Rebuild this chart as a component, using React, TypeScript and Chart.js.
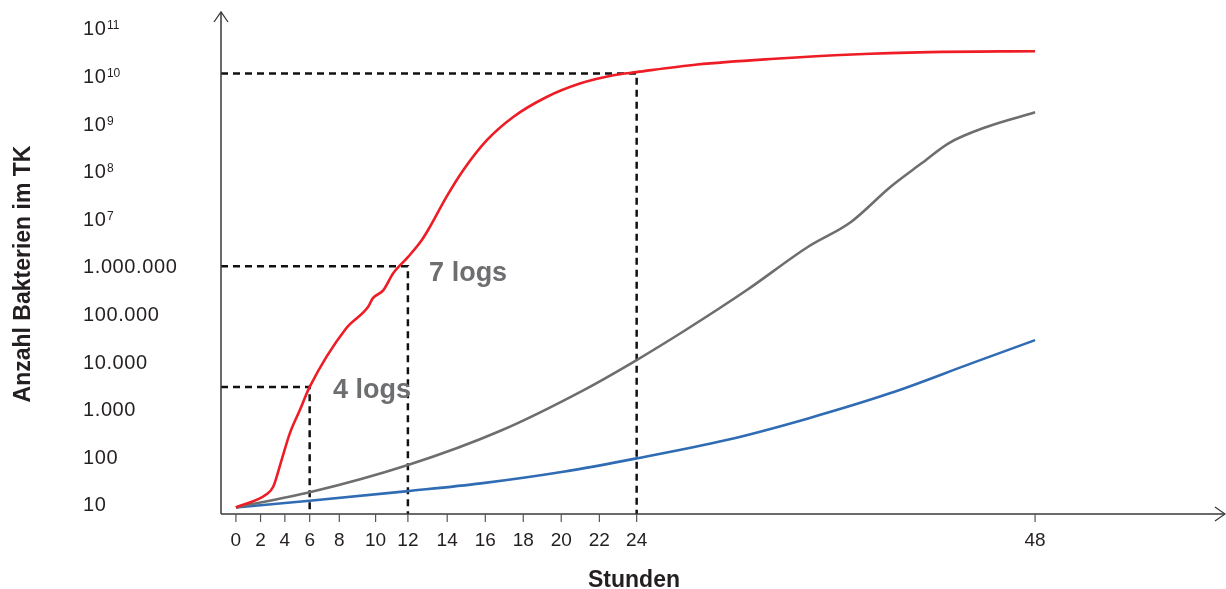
import { useEffect, useRef } from 'react';
import {
  Chart,
  LineController,
  LineElement,
  PointElement,
  LinearScale,
  LogarithmicScale,
} from 'chart.js';

// ---------- data ----------
// printed hour ticks and where the (irregular) printed ruler places them, in hours of an even 48 h ruler
const HOURS_TICKS = [0, 2, 4, 6, 8, 10, 12, 14, 16, 18, 20, 22, 24, 48];
const HOURS_TICK_LABELS = ['0', '2', '4', '6', '8', '10', '12', '14', '16', '18', '20', '22', '24', '48'];
const HOURS_RULER = [0, 1.48, 2.94, 4.43, 6.21, 8.39, 10.33, 12.69, 14.98, 17.26, 19.54, 21.83, 24.07, 48];
const X_MIN_HOURS = -1.21;
const X_MAX_HOURS = 59.44;

const Y_MIN = 6.17;
const Y_MAX = 2.2e11;
const Y_TICKS = [10, 100, 1e3, 1e4, 1e5, 1e6, 1e7, 1e8, 1e9, 1e10, 1e11];
const Y_TICK_LABELS = ['10', '100', '1.000', '10.000', '100.000', '1.000.000', '10⁷', '10⁸', '10⁹', '10¹⁰', '10¹¹'];

const RED_HOURS = [0, 2.49, 3.04, 3.73, 4.4, 5.21, 6, 8.37, 9.59, 9.84, 10.47, 11.09, 12, 12.7, 13.12, 13.97, 14.84, 16.07, 17.47, 19.23, 20.98, 22.75, 24, 27.65, 32.31, 36.97, 41.63, 48];
const RED_CFU = [8.5, 16, 23, 84, 306, 946, 2900, 4.9e4, 1.4e5, 2.1e5, 3.1e5, 7.1e5, 1.55e6, 3.5e6, 6.7e6, 2.9e7, 1.04e8, 4.4e8, 1.37e9, 3.6e9, 6.9e9, 1.03e10, 1.2e10, 1.73e10, 2.29e10, 2.82e10, 3.16e10, 3.3e10];

const GRAY_HOURS = [0, 6, 12, 16.77, 21.18, 24, 26.95, 30.64, 34.33, 36.91, 39.3, 41.16, 42.79, 45.12, 48];
const GRAY_CFU = [8.5, 17.6, 66, 343, 2490, 10640, 45500, 3.15e5, 2.56e6, 8.5e6, 4.68e7, 1.45e8, 3.83e8, 8.55e8, 1.71e9];

const BLUE_HOURS = [0, 6, 12, 15.77, 20.1, 24, 29.41, 34.33, 39.25, 44.16, 48];
const BLUE_CFU = [8.5, 11.7, 18.7, 27.2, 47.7, 91, 221, 631, 2120, 9040, 27900];

const GUIDE_HOURS = [6, 12, 24];
const GUIDE_CFU = [2900, 1e6, 1.12e10];

const NOTE_TEXTS = ['4 logs', '7 logs'];
const NOTE_HOURS = [7.57, 13.08];
const NOTE_CFU = [1670, 4.9e5];

const X_TITLE = 'Stunden';
const Y_TITLE = 'Anzahl Bakterien im TK';

// ---------- styles ----------
const FONT = '"Liberation Sans", Arial, Helvetica, sans-serif';
const RED = '#ee1c25';
const GRAY = '#6d6e70';
const BLUE = '#2f6cb4';
const TEXT = '#231f20';
const SUP = '⁰¹²³⁴⁵⁶⁷⁸⁹';

function hoursToRuler(h: number): number {
  const n = HOURS_TICKS.length;
  let i = 0;
  if (h >= HOURS_TICKS[n - 1]) i = n - 2;
  else if (h > HOURS_TICKS[0]) {
    while (h > HOURS_TICKS[i + 1]) i++;
  }
  const h0 = HOURS_TICKS[i];
  const h1 = HOURS_TICKS[i + 1];
  const r0 = HOURS_RULER[i];
  const r1 = HOURS_RULER[i + 1];
  return r0 + ((h - h0) * (r1 - r0)) / (h1 - h0);
}

class PrintedHoursScale extends LinearScale {
  static id = 'printedHours';
  determineDataLimits() {
    this.min = hoursToRuler(X_MIN_HOURS);
    this.max = hoursToRuler(X_MAX_HOURS);
  }
  buildTicks() {
    return HOURS_TICKS.map((value) => ({ value }));
  }
  getPixelForValue(value: any) {
    if (value === null || value === undefined || isNaN(value)) return NaN;
    return super.getPixelForValue(hoursToRuler(value));
  }
}

Chart.register(LineController, LineElement, PointElement, LinearScale, LogarithmicScale, PrintedHoursScale);

const pts = (xs: number[], ys: number[]) => xs.map((x, i) => ({ x, y: ys[i] }));

const refAxesPlugin = {
  id: 'refAxes',
  afterDraw(chart: any) {
    const { ctx, chartArea: a } = chart;
    const xs = chart.scales.x;
    const ys = chart.scales.y;
    ctx.save();

    // axis lines with arrows
    ctx.strokeStyle = '#3a3a3a';
    ctx.lineWidth = 1.5;
    ctx.beginPath();
    ctx.moveTo(a.left, a.bottom);
    ctx.lineTo(a.left, a.top);
    ctx.moveTo(a.left, a.bottom);
    ctx.lineTo(a.right, a.bottom);
    ctx.stroke();
    ctx.lineWidth = 1.3;
    ctx.beginPath();
    ctx.moveTo(a.left - 7, a.top + 10);
    ctx.lineTo(a.left, a.top);
    ctx.lineTo(a.left + 7, a.top + 10);
    ctx.moveTo(a.right - 10, a.bottom - 7);
    ctx.lineTo(a.right, a.bottom);
    ctx.lineTo(a.right - 10, a.bottom + 7);
    ctx.stroke();

    // x ticks + labels
    ctx.strokeStyle = '#555';
    ctx.lineWidth = 1.2;
    ctx.fillStyle = TEXT;
    ctx.font = `19px ${FONT}`;
    ctx.textAlign = 'center';
    ctx.textBaseline = 'alphabetic';
    HOURS_TICKS.forEach((h, i) => {
      const px = xs.getPixelForValue(h);
      ctx.beginPath();
      ctx.moveTo(px, a.bottom);
      ctx.lineTo(px, a.bottom + 8);
      ctx.stroke();
      ctx.fillText(HOURS_TICK_LABELS[i], px, a.bottom + 32);
    });

    // y labels
    ctx.textAlign = 'left';
    Y_TICKS.forEach((v, i) => {
      const py = ys.getPixelForValue(v);
      let base = '';
      let sup = '';
      for (const ch of Y_TICK_LABELS[i]) {
        const k = SUP.indexOf(ch);
        if (k >= 0) sup += String(k);
        else base += ch;
      }
      const baseline = py + 7.2;
      ctx.font = `20px ${FONT}`;
      (ctx as any).letterSpacing = '0.6px';
      ctx.fillText(base, a.left - 138, baseline);
      if (sup) {
        const w = ctx.measureText(base).width;
        ctx.font = `12px ${FONT}`;
        (ctx as any).letterSpacing = '0px';
        ctx.fillText(sup, a.left - 138 + w + 0.5, baseline - 6);
      }
    });
    (ctx as any).letterSpacing = '0px';

    // notes
    ctx.fillStyle = GRAY;
    ctx.font = `bold 27px ${FONT}`;
    NOTE_TEXTS.forEach((t, i) => {
      ctx.fillText(t, xs.getPixelForValue(NOTE_HOURS[i]), ys.getPixelForValue(NOTE_CFU[i]));
    });

    // titles
    ctx.fillStyle = TEXT;
    ctx.font = `bold 23px ${FONT}`;
    ctx.textAlign = 'center';
    ctx.fillText(X_TITLE, a.left + 413, a.bottom + 73);
    ctx.save();
    ctx.translate(30, (a.top + a.bottom) / 2 + 11);
    ctx.rotate(-Math.PI / 2);
    ctx.fillText(Y_TITLE, 0, 0);
    ctx.restore();

    ctx.restore();
  },
};

export default function App() {
  const ref = useRef<HTMLCanvasElement>(null);
  useEffect(() => {
    if (!ref.current) return;
    const curve = (label: string, xs: number[], ys: number[], color: string) => ({
      label,
      data: pts(xs, ys),
      borderColor: color,
      borderWidth: 2.6,
      pointRadius: 0,
      cubicInterpolationMode: 'monotone' as const,
      fill: false,
      order: 0,
    });
    const guides = GUIDE_HOURS.map((h, i) => ({
      label: `guide${i}`,
      data: [
        { x: X_MIN_HOURS, y: GUIDE_CFU[i] },
        { x: h, y: GUIDE_CFU[i] },
        { x: h, y: Y_MIN },
      ],
      borderColor: '#111111',
      borderWidth: 2.5,
      borderDash: [7, 5],
      pointRadius: 0,
      tension: 0,
      fill: false,
      order: 1,
    }));
    const chart = new Chart(ref.current, {
      type: 'line',
      data: {
        datasets: [
          curve('rot', RED_HOURS, RED_CFU, RED),
          curve('grau', GRAY_HOURS, GRAY_CFU, GRAY),
          curve('blau', BLUE_HOURS, BLUE_CFU, BLUE),
          ...guides,
        ] as any,
      },
      options: {
        animation: false,
        responsive: false,
        events: [],
        layout: { padding: { left: 221, top: 12, right: 1, bottom: 75 } },
        plugins: { legend: { display: false }, tooltip: { enabled: false } } as any,
        scales: {
          x: { type: 'printedHours' as any, display: false, ticks: { display: false } },
          y: { type: 'logarithmic', display: false, min: Y_MIN, max: Y_MAX, bounds: 'data', ticks: { display: false } },
        } as any,
      },
      plugins: [refAxesPlugin],
    });
    return () => chart.destroy();
  }, []);
  return (
    <div style={{ position: 'absolute', left: 0, top: 0, width: 1226, height: 589, background: '#fff' }}>
      <canvas ref={ref} width={1226} height={589} style={{ display: 'block' }} />
    </div>
  );
}
